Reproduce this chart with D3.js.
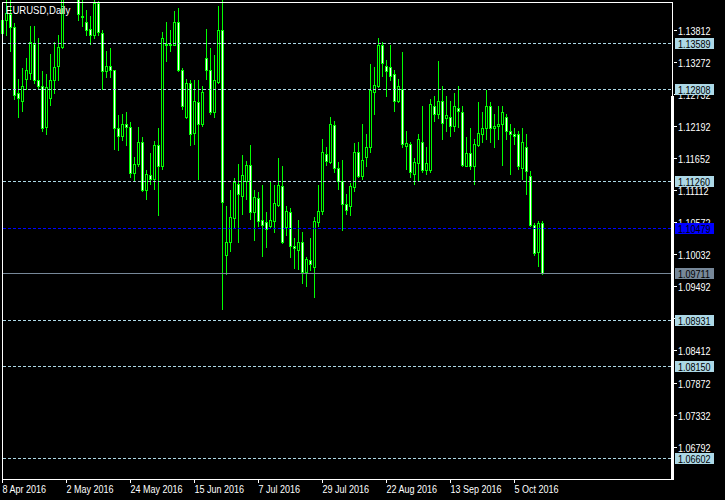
<!DOCTYPE html>
<html><head><meta charset="utf-8">
<script src="https://cdn.jsdelivr.net/npm/d3@7"></script>
<style>
html,body{margin:0;padding:0;background:#000;}
svg{display:block;}
text{font-family:"Liberation Sans",Arial,sans-serif;font-size:11px;}
</style></head>
<body>
<svg id="chart" width="725" height="500"></svg>
<script>
const title = "EURUSD,Daily";
const dates = [
"2016-04-08","2016-04-11","2016-04-12","2016-04-13","2016-04-14","2016-04-15","2016-04-18","2016-04-19","2016-04-20","2016-04-21","2016-04-22","2016-04-25","2016-04-26","2016-04-27","2016-04-28","2016-04-29",
"2016-05-02","2016-05-03","2016-05-04","2016-05-05","2016-05-06","2016-05-09","2016-05-10","2016-05-11","2016-05-12","2016-05-13","2016-05-16","2016-05-17","2016-05-18","2016-05-19","2016-05-20","2016-05-23","2016-05-24","2016-05-25","2016-05-26","2016-05-27","2016-05-30","2016-05-31",
"2016-06-01","2016-06-02","2016-06-03","2016-06-06","2016-06-07","2016-06-08","2016-06-09","2016-06-10","2016-06-13","2016-06-14","2016-06-15","2016-06-16","2016-06-17","2016-06-20","2016-06-21","2016-06-22","2016-06-23","2016-06-24","2016-06-27","2016-06-28","2016-06-29","2016-06-30",
"2016-07-01","2016-07-04","2016-07-05","2016-07-06","2016-07-07","2016-07-08","2016-07-11","2016-07-12","2016-07-13","2016-07-14","2016-07-15","2016-07-18","2016-07-19","2016-07-20","2016-07-21","2016-07-22","2016-07-25","2016-07-26","2016-07-27","2016-07-28","2016-07-29",
"2016-08-01","2016-08-02","2016-08-03","2016-08-04","2016-08-05","2016-08-08","2016-08-09","2016-08-10","2016-08-11","2016-08-12","2016-08-15","2016-08-16","2016-08-17","2016-08-18","2016-08-19","2016-08-22","2016-08-23","2016-08-24","2016-08-25","2016-08-26","2016-08-29","2016-08-30","2016-08-31",
"2016-09-01","2016-09-02","2016-09-05","2016-09-06","2016-09-07","2016-09-08","2016-09-09","2016-09-12","2016-09-13","2016-09-14","2016-09-15","2016-09-16","2016-09-19","2016-09-20","2016-09-21","2016-09-22","2016-09-23","2016-09-26","2016-09-27","2016-09-28","2016-09-29","2016-09-30",
"2016-10-03","2016-10-04","2016-10-05","2016-10-06","2016-10-07","2016-10-10","2016-10-11","2016-10-12","2016-10-13","2016-10-14"];

const open = [1.1375,1.1397,1.1407,1.1385,1.1274,1.1262,1.1299,1.1309,1.1358,1.1297,1.1287,1.1218,1.1267,1.1296,1.1321,1.1353,
1.1454,1.1542,1.1495,1.1488,1.1405,1.1395,1.1382,1.1372,1.1426,1.1375,1.1311,1.1321,1.1313,1.1216,1.1203,1.1223,1.1218,1.1140,1.1156,1.1193,1.1112,1.1137,
1.1130,1.1188,1.1151,1.1358,1.1355,1.1356,1.1395,1.1313,1.1235,1.1291,1.1208,1.1260,1.1223,1.1333,1.1313,1.1243,1.1294,1.1380,1.1002,1.1024,1.1064,1.1122,
1.1102,1.1127,1.1154,1.1075,1.1098,1.1061,1.1058,1.1051,1.1059,1.1086,1.1118,1.1049,1.1075,1.1017,1.1010,1.1024,1.0973,1.0994,1.0982,1.1058,1.1076,
1.1172,1.1159,1.1221,1.1149,1.1127,1.1088,1.1085,1.1117,1.1176,1.1135,1.1167,1.1183,1.1277,1.1286,1.1355,1.1321,1.1319,1.1306,1.1262,1.1282,1.1186,1.1189,1.1139,
1.1157,1.1193,1.1145,1.1145,1.1253,1.1240,1.1262,1.1232,1.1235,1.1220,1.1250,1.1243,1.1152,1.1174,1.1151,1.1188,1.1206,1.1215,1.1253,1.1215,1.1220,1.1223,
1.1235,1.1210,1.1205,1.1205,1.1149,1.1183,1.1135,1.1053,1.1007,1.1056];

const high = [1.1404,1.1437,1.1465,1.1392,1.1299,1.1316,1.1333,1.1387,1.1388,1.1367,1.1311,1.1306,1.1341,1.1361,1.1372,1.1468,
1.1545,1.1616,1.1508,1.1493,1.1442,1.1414,1.1405,1.1437,1.1429,1.1380,1.1346,1.1350,1.1314,1.1237,1.1240,1.1243,1.1226,1.1167,1.1218,1.1201,1.1145,1.1174,
1.1194,1.1215,1.1378,1.1395,1.1380,1.1412,1.1417,1.1316,1.1299,1.1296,1.1296,1.1296,1.1287,1.1383,1.1350,1.1338,1.1422,1.1431,1.1085,1.1112,1.1132,1.1156,
1.1171,1.1161,1.1188,1.1112,1.1108,1.1120,1.1075,1.1127,1.1120,1.1166,1.1151,1.1085,1.1081,1.1031,1.1061,1.1041,1.0999,1.1031,1.1066,1.1120,1.1198,
1.1184,1.1235,1.1228,1.1159,1.1162,1.1105,1.1124,1.1191,1.1193,1.1223,1.1205,1.1324,1.1318,1.1368,1.1361,1.1331,1.1356,1.1313,1.1299,1.1343,1.1210,1.1193,1.1166,
1.1206,1.1253,1.1183,1.1264,1.1270,1.1328,1.1287,1.1270,1.1262,1.1275,1.1286,1.1252,1.1201,1.1215,1.1198,1.1259,1.1243,1.1280,1.1260,1.1240,1.1252,1.1252,
1.1240,1.1223,1.1215,1.1210,1.1215,1.1205,1.1144,1.1056,1.1059,1.1059];

const low = [1.1367,1.1372,1.1346,1.1265,1.1235,1.1245,1.1282,1.1299,1.1291,1.1282,1.1211,1.1206,1.1255,1.1274,1.1296,1.1350,
1.1437,1.1491,1.1467,1.1397,1.1387,1.1372,1.1358,1.1368,1.1372,1.1282,1.1302,1.1302,1.1181,1.1179,1.1196,1.1188,1.1134,1.1127,1.1151,1.1110,1.1097,1.1122,
1.1113,1.1070,1.1147,1.1328,1.1345,1.1355,1.1311,1.1248,1.1232,1.1188,1.1189,1.1130,1.1220,1.1299,1.1240,1.1235,1.1291,1.0911,1.0970,1.1009,1.1049,1.1024,
1.1071,1.1097,1.1063,1.1027,1.1051,1.1000,1.1016,1.1049,1.1041,1.1085,1.1022,1.1036,1.0999,1.0980,1.0978,1.0955,1.0950,1.0977,1.0931,1.1051,1.1071,
1.1154,1.1157,1.1142,1.1113,1.1044,1.1071,1.1070,1.1110,1.1134,1.1130,1.1152,1.1176,1.1240,1.1284,1.1304,1.1270,1.1296,1.1245,1.1260,1.1183,1.1147,1.1134,1.1122,
1.1129,1.1142,1.1139,1.1142,1.1228,1.1233,1.1198,1.1211,1.1203,1.1211,1.1218,1.1151,1.1151,1.1147,1.1122,1.1186,1.1193,1.1198,1.1193,1.1183,1.1198,1.1154,
1.1198,1.1139,1.1189,1.1147,1.1130,1.1105,1.1051,1.1002,1.0983,1.0970];

const close = [1.1397,1.1409,1.1385,1.1272,1.1267,1.1286,1.1314,1.1361,1.1296,1.1287,1.1216,1.1284,1.1297,1.1319,1.1353,1.1454,
1.1542,1.1495,1.1488,1.1407,1.1403,1.1380,1.1372,1.1427,1.1378,1.1311,1.1321,1.1313,1.1216,1.1203,1.1223,1.1218,1.1140,1.1156,1.1193,1.1112,1.1139,1.1130,
1.1188,1.1151,1.1368,1.1355,1.1358,1.1395,1.1313,1.1253,1.1291,1.1206,1.1262,1.1223,1.1277,1.1313,1.1243,1.1296,1.1380,1.1091,1.1024,1.1066,1.1125,1.1105,
1.1137,1.1154,1.1075,1.1100,1.1059,1.1053,1.1046,1.1061,1.1090,1.1120,1.1024,1.1076,1.1017,1.1014,1.1024,1.0973,1.0995,1.0987,1.1059,1.1076,1.1176,
1.1161,1.1223,1.1149,1.1127,1.1088,1.1078,1.1118,1.1176,1.1135,1.1162,1.1184,1.1279,1.1289,1.1355,1.1326,1.1311,1.1304,1.1262,1.1286,1.1189,1.1191,1.1142,1.1159,
1.1198,1.1145,1.1157,1.1257,1.1240,1.1262,1.1225,1.1237,1.1220,1.1252,1.1245,1.1154,1.1174,1.1151,1.1189,1.1208,1.1216,1.1253,1.1215,1.1220,1.1223,1.1242,
1.1210,1.1205,1.1203,1.1151,1.1193,1.1144,1.1053,1.1005,1.1056,1.09711];

const priceTicks = [1.13812,1.13272,1.12732,1.12192,1.11652,1.11112,1.10572,1.10032,1.09492,1.08952,1.08412,1.07872,1.07332,1.06792];
const timeTickDates = ["2016-04-08","2016-05-02","2016-05-24","2016-06-15","2016-07-07","2016-07-29","2016-08-22","2016-09-13","2016-10-05"];
const timeTickLabels = ["8 Apr 2016","2 May 2016","24 May 2016","15 Jun 2016","7 Jul 2016","29 Jul 2016","22 Aug 2016","13 Sep 2016","5 Oct 2016"];
const levelPrices = [1.13589,1.12808,1.11260,1.08931,1.08150,1.06602];
const bluePrice = 1.10479;
const bidPrice = 1.09711;

const svg = d3.select("#chart");
const W = 725, H = 500;
const SX = 0.82;

svg.append("rect").attr("width",W).attr("height",H).attr("fill","#000");

const x = d3.scalePoint().domain(dates).range([2, 2 + 4*(dates.length-1)]);
const y = d3.scaleLinear().domain([1.13589, 1.06602]).range([43.5, 458.5]);
const row = p => Math.floor(y(p));

const bars = dates.map((d,i)=>({d, o:open[i], h:high[i], l:low[i], c:close[i]}));

const plot = svg.append("g").attr("shape-rendering","crispEdges");
plot.append("defs").append("clipPath").attr("id","pc").append("rect")
  .attr("x",0).attr("y",0).attr("width",672).attr("height",479);
const cg = plot.append("g").attr("clip-path","url(#pc)");

// wicks
cg.selectAll("rect.wick").data(bars).join("rect").attr("class","wick")
  .attr("x", b=>x(b.d)).attr("width",1)
  .attr("y", b=>row(b.h)).attr("height", b=>Math.max(1,row(b.l)-row(b.h)+1))
  .attr("fill","#00ff00");
// bodies
cg.selectAll("rect.body").data(bars).join("rect").attr("class","body")
  .attr("x", b=>x(b.d)-1).attr("width",3)
  .attr("y", b=>row(Math.max(b.o,b.c)))
  .attr("height", b=>Math.max(1,row(Math.min(b.o,b.c))-row(Math.max(b.o,b.c))+1))
  .attr("fill","#00ff00");
cg.selectAll("rect.fill").data(bars.filter(b=>row(Math.min(b.o,b.c))-row(Math.max(b.o,b.c))>=2)).join("rect").attr("class","fill")
  .attr("x", b=>x(b.d)).attr("width",1)
  .attr("y", b=>row(Math.max(b.o,b.c))+1)
  .attr("height", b=>row(Math.min(b.o,b.c))-row(Math.max(b.o,b.c))-1)
  .attr("fill", b=> b.c < b.o ? "#ffffff" : "#000000");

// horizontal levels
const lg = plot.append("g");
lg.selectAll("line.lvl").data(levelPrices).join("line").attr("class","lvl")
  .attr("x1",3).attr("x2",671).attr("y1",p=>row(p)+0.5).attr("y2",p=>row(p)+0.5)
  .attr("stroke","#add8e6").attr("stroke-dasharray","3,2");
lg.append("line").attr("x1",3).attr("x2",671).attr("y1",row(bluePrice)+0.5).attr("y2",row(bluePrice)+0.5)
  .attr("stroke","#0000ff").attr("stroke-dasharray","3,2");
lg.append("line").attr("x1",3).attr("x2",671).attr("y1",row(bidPrice)+0.5).attr("y2",row(bidPrice)+0.5)
  .attr("stroke","#778899");

// frame
const fr = svg.append("g").attr("shape-rendering","crispEdges").attr("fill","#fff");
fr.append("rect").attr("x",2).attr("y",2).attr("width",671).attr("height",1);
fr.append("rect").attr("x",2).attr("y",2).attr("width",1).attr("height",478);
fr.append("rect").attr("x",2).attr("y",479).attr("width",671).attr("height",1);
fr.append("rect").attr("x",672).attr("y",2).attr("width",1).attr("height",478);
fr.append("rect").attr("x",671).attr("y",96).attr("width",3).attr("height",384);

// right price axis
const ra = svg.append("g").attr("transform","translate(673.5,0)")
  .call(d3.axisRight(y).tickValues(priceTicks).tickSize(3).tickFormat(d3.format(".5f")));
ra.select(".domain").remove();
ra.selectAll(".tick line").attr("stroke","#fff").attr("shape-rendering","crispEdges");
ra.selectAll(".tick").attr("transform", d=>`translate(0,${row(d)+0.5})`);
ra.selectAll(".tick text").attr("fill","#fff").attr("x",null).attr("dy",null)
  .attr("transform",`translate(4.5,4) scale(${SX},1)`)
  .style("font-family",'"Liberation Sans",Arial,sans-serif').style("font-size","11px");

// level labels
const labs = [...levelPrices.map(p=>({p,bg:"#add8e6"})),{p:bluePrice,bg:"#0000ff"},{p:bidPrice,bg:"#778899"}];
const lab = svg.append("g").selectAll("g").data(labs).join("g")
  .attr("transform", d=>`translate(675,${row(d.p)})`);
lab.append("rect").attr("x",0).attr("y",-5).attr("width",39).attr("height",11).attr("fill",d=>d.bg)
  .attr("shape-rendering","crispEdges");
lab.append("text").attr("transform",`translate(3,4.5) scale(${SX},1)`).attr("fill","#000")
  .text(d=>d3.format(".5f")(d.p));

// bottom time axis
const ba = svg.append("g").attr("transform","translate(0,479)")
  .call(d3.axisBottom(x).tickValues(timeTickDates).tickSize(4).tickSizeOuter(0)
    .tickFormat((d,i)=>timeTickLabels[i]));
ba.select(".domain").remove();
ba.selectAll(".tick line").attr("stroke","#fff").attr("shape-rendering","crispEdges");
ba.selectAll(".tick text").attr("fill","#fff").attr("y",null).attr("dy",null).attr("text-anchor","start")
  .attr("transform",`translate(0,13.5) scale(${SX},1)`)
  .style("font-family",'"Liberation Sans",Arial,sans-serif').style("font-size","11px");

// title
svg.append("text").attr("transform","translate(6,13.5) scale(0.87,1)").attr("fill","#fff").text(title);
</script>
</body></html>
